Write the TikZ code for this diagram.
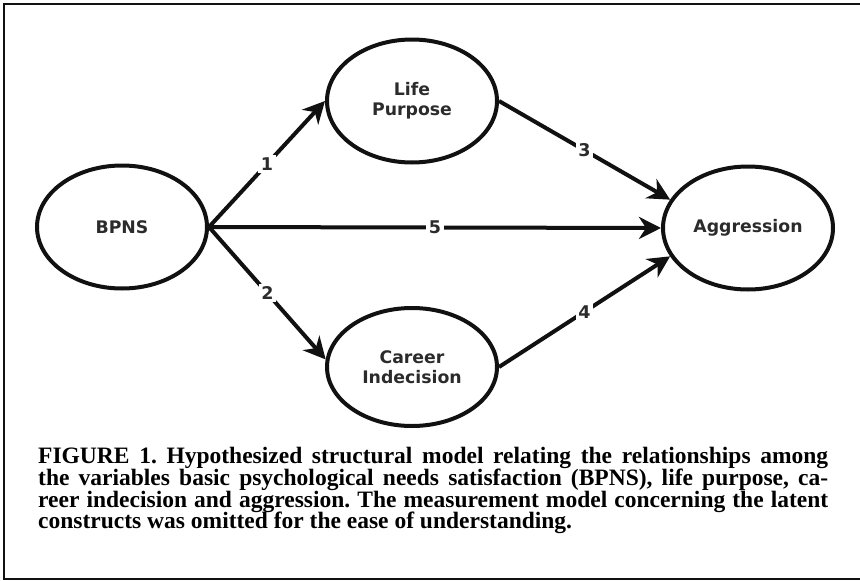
\documentclass[tikz,border=0pt]{standalone}
\usepackage{fontspec}
\setmainfont{Liberation Serif}
\newfontfamily\nodefont{DejaVu Sans}
\usetikzlibrary{arrows.meta,shapes.geometric}
\definecolor{ink}{HTML}{111111}
\definecolor{label}{HTML}{2B2B2B}
\tikzset{
  latent/.style={ellipse, draw=ink, line width=4pt, minimum width=170pt, minimum height=123pt, inner sep=0pt,
     font=\nodefont\bfseries\fontsize{17.3}{20}\selectfont, text=label, align=center},
  path/.style={draw=ink, line width=4pt, -{Stealth[length=22pt,width=22pt,inset=7pt]}},
  num/.style={fill=white, inner sep=2.5pt, font=\nodefont\bfseries\fontsize{17.5}{20}\selectfont, text=label},
  capline/.style={anchor=base west, inner sep=0pt, font=\bfseries\fontsize{23.5}{21.7}\selectfont}
}
\newcommand{\capl}[1]{\makebox[790pt][s]{#1}}
\frenchspacing
\begin{document}
\begin{tikzpicture}[x=1pt,y=-1pt]
\useasboundingbox (0,0) rectangle (860,581);
\draw[line width=2.6pt, ink] (4,4) rectangle (866,579);

\node[latent] (bpns) at (122,227) {BPNS};
\node[latent] (lp) at (412,101) {Life\\Purpose};
\node[latent, minimum height=118pt] (ci) at (412,367) {Career\\Indecision};
\node[latent] (agg) at (748,228) {Aggression};

\draw[path] (bpns.east) -- node[num] {1} (lp.west);
\draw[path] (bpns.east) -- node[num] {2} (ci.175);
\draw[path] (bpns.east) -- node[num] {5} (agg.west);
\draw[path] (lp.east) -- node[num] {3} (agg.160);
\draw[path] (ci.east) -- node[num] {4} (agg.200);

\node[capline] (c1) at (38,463) {\capl{FIGURE 1. Hypothesized structural model relating the relationships among}};
\node[capline] (c2) at (38,485) {\capl{the variables basic psychological needs satisfaction (BPNS), life purpose, ca-}};
\node[capline] (c3) at (38,507) {\capl{reer indecision and aggression. The measurement model concerning the latent}};
\node[capline] (c4) at (38,528) {constructs was omitted for the ease of understanding.};
\end{tikzpicture}
\end{document}
